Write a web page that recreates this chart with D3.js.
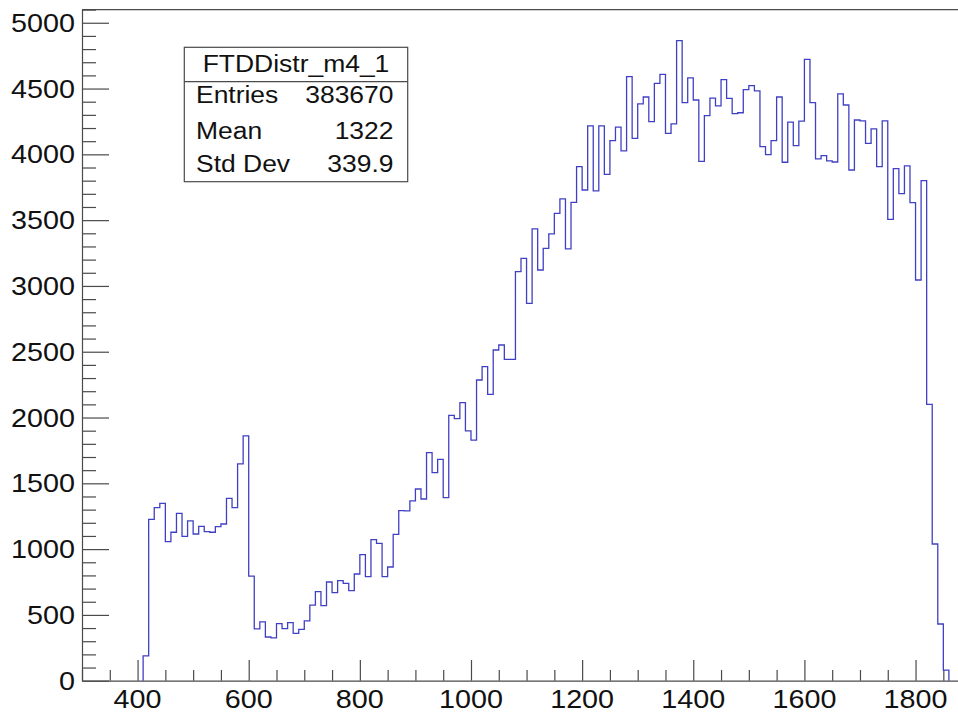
<!DOCTYPE html>
<html>
<head>
<meta charset="utf-8">
<script src="https://cdn.jsdelivr.net/npm/d3@7"></script>
<style>
  html, body { margin: 0; padding: 0; background: #fff; }
  svg { display: block; }
</style>
</head>
<body>
<svg id="chart" width="958" height="713"></svg>
<script>
// Histogram FTDDistr_m4_1: regular binning, 10 units per bin, first filled bin starts at 410
const histName = "FTDDistr_m4_1";
const binLow = 410;
const binWidth = 10;
const counts = [
  188, 1226, 1315, 1348, 1057, 1128, 1272, 1097, 1214, 1115,   // 410-500
  1173, 1133, 1128, 1171, 1191, 1386, 1315, 1647, 1860,  795,  // 510-600
   394,  447,  332,  325,  433,  396,  441,  360,  390,  455,  // 610-700
   574,  677,  570,  750,  669,  760,  740,  684,  811,  958,  // 710-800
   791, 1072, 1044,  791,  864, 1112, 1292, 1290, 1366, 1457,  // 810-900
  1381, 1733, 1581, 1682, 1391, 2017, 1991, 2113, 1898, 1829,  // 910-1000
  2285, 2387, 2176, 2513, 2551, 2442, 2442, 3109, 3210, 2868,  // 1010-1100
  3433, 3121, 3286, 3395, 3552, 3662, 3281, 3635, 3907, 3729,  // 1110-1200
  4216, 3722, 4216, 3848, 4104, 4207, 4026, 4590, 4122, 4384,  // 1210-1300
  4436, 4249, 4540, 4608, 4160, 4231, 4864, 4393, 4581, 4413,  // 1310-1400
  3947, 4294, 4428, 4368, 4568, 4426, 4309, 4316, 4492, 4522,  // 1410-1500
  4482, 4059, 3998, 4104, 4436, 3940, 4245, 4066, 4252, 4722,  // 1510-1600
  4393, 3965, 3990, 3950, 3942, 4459, 4375, 3881, 4261, 4254,  // 1610-1700
  4084, 4193, 3907, 4254, 3506, 3891, 3701, 3912, 3633, 3045,  // 1710-1800
  3800, 2100, 1039,  431,   81                                 // 1810-1850
];

const xTicks = [400, 600, 800, 1000, 1200, 1400, 1600, 1800];
const yTicks = [0, 500, 1000, 1500, 2000, 2500, 3000, 3500, 4000, 4500, 5000];
const xMinorStep = 50;
const yMinorStep = 100;

const statLabels = ["Entries", "Mean", "Std Dev"];
const statValues = ["383670", "1322", "339.9"];

// ---- layout ----
const FONT = "'Liberation Sans', Arial, Helvetica, sans-serif";
const plot = { left: 82, right: 960, top: 9.6, bottom: 680.7 };
const xDomain = [300, 1880];
const yDomain = [0, 5100];
const axisColor = "#4a4a4a";
const lineColor = "#4040c4";

const svg = d3.select("#chart");

const x = d3.scaleLinear().domain(xDomain).range([plot.left, plot.right]);
const y = d3.scaleLinear().domain(yDomain).range([plot.bottom, plot.top]);

function minorValues(domain, step, majors) {
  const out = [];
  for (let v = Math.ceil(domain[0] / step) * step; v <= domain[1]; v += step) {
    if (!majors.includes(v)) out.push(v);
  }
  return out;
}

function styleAxis(g) {
  g.selectAll("path, line").attr("stroke", axisColor).attr("stroke-width", 1.2);
}

// text with a slight horizontal stretch, anchored at (px, py)
function label(parent, px, py, txt, size, sx, anchor) {
  return parent.append("text")
    .attr("transform", `translate(${px},${py}) scale(${sx},1)`)
    .attr("text-anchor", anchor)
    .attr("font-family", FONT)
    .attr("font-size", size)
    .attr("fill", "#111")
    .text(txt);
}

// top frame line
svg.append("line")
  .attr("x1", plot.left).attr("x2", plot.right)
  .attr("y1", plot.top).attr("y2", plot.top)
  .attr("stroke", axisColor).attr("stroke-width", 1.2);

// ---- y axis (ticks point into the frame) ----
const yMajor = svg.append("g")
  .attr("transform", `translate(${plot.left},0)`)
  .call(d3.axisLeft(y).tickValues(yTicks).tickSizeInner(-27).tickSizeOuter(0).tickFormat(""));
styleAxis(yMajor);
const yMinor = svg.append("g")
  .attr("transform", `translate(${plot.left},0)`)
  .call(d3.axisLeft(y).tickValues(minorValues(yDomain, yMinorStep, yTicks))
        .tickSizeInner(-14).tickSizeOuter(0).tickFormat(""));
styleAxis(yMinor);
yMinor.select(".domain").remove();

// ---- x axis ----
const xMajor = svg.append("g")
  .attr("transform", `translate(0,${plot.bottom})`)
  .call(d3.axisBottom(x).tickValues(xTicks).tickSizeInner(-20.7).tickSizeOuter(0).tickFormat(""));
styleAxis(xMajor);
const xMinor = svg.append("g")
  .attr("transform", `translate(0,${plot.bottom})`)
  .call(d3.axisBottom(x).tickValues(minorValues([xDomain[0], 1850], xMinorStep, xTicks))
        .tickSizeInner(-10.7).tickSizeOuter(0).tickFormat(""));
styleAxis(xMinor);
xMinor.select(".domain").remove();

// tick labels
const tickLabels = svg.append("g");
yTicks.forEach(v => label(tickLabels, plot.left - 7, y(v) + 9, d3.format("d")(v), 25, 1.15, "end"));
xTicks.forEach(v => label(tickLabels, x(v), 707.8, d3.format("d")(v), 25, 1.15, "middle"));

// ---- histogram outline ----
const pts = [[binLow, 0]];
counts.forEach((c, i) => {
  const lo = binLow + i * binWidth;
  pts.push([lo, c], [lo + binWidth, c]);
});
pts.push([binLow + counts.length * binWidth, 0]);

svg.append("path")
  .datum(pts)
  .attr("d", d3.line().x(d => x(d[0])).y(d => y(d[1])))
  .attr("fill", "none")
  .attr("stroke", lineColor)
  .attr("stroke-width", 1.3)
  .attr("stroke-linejoin", "miter");

// ---- statistics box ----
const box = { x: 184.3, y: 47.3, w: 223.4, h: 134.4, split: 81.7 };
const stats = svg.append("g");
stats.append("rect")
  .attr("x", box.x).attr("y", box.y).attr("width", box.w).attr("height", box.h)
  .attr("fill", "#fff").attr("stroke", axisColor).attr("stroke-width", 1.2);
stats.append("line")
  .attr("x1", box.x).attr("x2", box.x + box.w)
  .attr("y1", box.split).attr("y2", box.split)
  .attr("stroke", axisColor).attr("stroke-width", 1.2);

label(stats, box.x + box.w / 2, 71.7, histName, 24.5, 1.08, "middle");
const rowBase = [103.3, 139, 172.3];
statLabels.forEach((t, i) => {
  label(stats, 196, rowBase[i], t, 24.5, 1.08, "start");
  label(stats, 393.5, rowBase[i], statValues[i], 24.5, 1.08, "end");
});
</script>
</body>
</html>
